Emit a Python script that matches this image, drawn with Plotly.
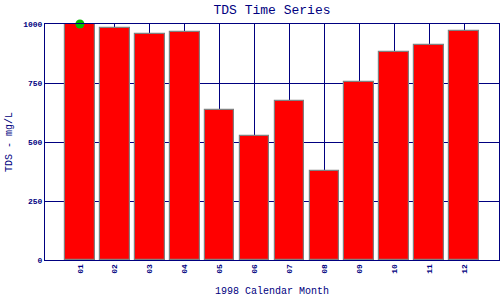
import plotly.graph_objects as go

months = ["01", "02", "03", "04", "05", "06", "07", "08", "09", "10", "11", "12"]
month_pos = [1, 2, 3, 4, 5, 6, 7, 8, 9, 10, 11, 12]
tds = [1008, 982, 958, 965, 634, 524, 672, 377, 753, 880, 911, 969]
marker_x = [1]
marker_y = [1000]
y_ticks = [0, 250, 500, 750, 1000]

navy = "#000080"
mono = "Liberation Mono, DejaVu Sans Mono, monospace"

fig = go.Figure()
fig.add_trace(go.Bar(
    x=month_pos, y=tds, width=0.85,
    marker=dict(color="#ff0000", line=dict(color="#808080", width=1.2)),
    showlegend=False, hoverinfo="skip",
))
fig.add_trace(go.Scatter(
    x=marker_x, y=marker_y, mode="markers", cliponaxis=False,
    marker=dict(color="#00c000", size=9, symbol="circle"),
    showlegend=False, hoverinfo="skip",
))

fig.update_layout(
    width=500, height=300,
    margin=dict(l=45, r=1, t=24, b=40),
    plot_bgcolor="white", paper_bgcolor="white",
    title=dict(text="TDS Time Series", x=0.5, xref="paper", y=0.97, yanchor="middle",
               font=dict(family=mono, size=13, color=navy)),
    bargap=0,
)
fig.update_xaxes(
    range=[0, 13], tickvals=month_pos, ticktext=months, tickangle=-90,
    showgrid=True, gridcolor=navy, gridwidth=1,
    showline=True, linecolor=navy, linewidth=1, mirror=True,
    ticks="", zeroline=False,
    tickfont=dict(family=mono, size=8, color=navy, weight="bold"),
    title=dict(text="1998 Calendar Month", standoff=14,
               font=dict(family=mono, size=10, color=navy)),
)
fig.update_yaxes(
    range=[0, 1000], tickvals=y_ticks,
    showgrid=True, gridcolor=navy, gridwidth=1,
    showline=True, linecolor=navy, linewidth=1, mirror=True,
    ticks="", zeroline=False,
    tickfont=dict(family=mono, size=8, color=navy, weight="bold"),
    title=dict(text="TDS - mg/L", standoff=8,
               font=dict(family=mono, size=10, color=navy)),
)

fig.write_html("out.html")
